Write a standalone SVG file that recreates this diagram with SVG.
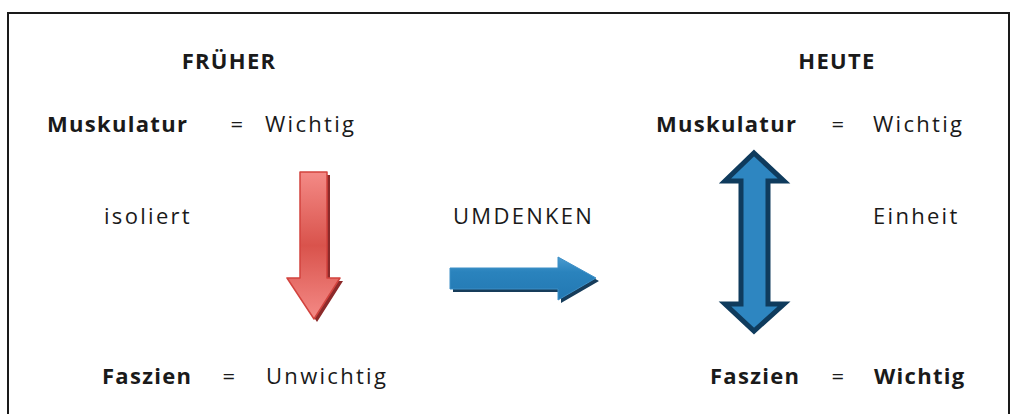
<svg xmlns="http://www.w3.org/2000/svg" width="1011" height="414" viewBox="0 0 1011 414">
  <style>
    text { font-family: "Open Sans", "Noto Sans", "DejaVu Sans", sans-serif; font-size: 22px; fill: #1a1a1a; letter-spacing: 2.3px; }
    .b { font-weight: 700; letter-spacing: 1.3px; }
    .mid { text-anchor: middle; }
  </style>
  <defs>
    <linearGradient id="redGrad" x1="0" y1="0" x2="0" y2="1">
      <stop offset="0" stop-color="#f48a86"/>
      <stop offset="0.5" stop-color="#d9534c"/>
      <stop offset="1" stop-color="#f48a86"/>
    </linearGradient>
    <linearGradient id="blueGrad" x1="0" y1="0" x2="0" y2="1">
      <stop offset="0" stop-color="#4a9bd0"/>
      <stop offset="0.35" stop-color="#2a83bd"/>
      <stop offset="1" stop-color="#2378b2"/>
    </linearGradient>
  </defs>

  <rect width="1011" height="414" fill="#ffffff"/>
  <!-- frame -->
  <path d="M8 420 V13 H1009 V420" fill="none" stroke="#1a1a1a" stroke-width="2"/>

  <g id="frueher">
    <text class="b mid" x="229" y="69">FRÜHER</text>
    <text class="b" x="47" y="132">Muskulatur</text>
    <text class="mid" x="238" y="132">=</text>
    <text x="265" y="132">Wichtig</text>
    <text x="104" y="224">isoliert</text>
    <text class="b" x="102" y="384">Faszien</text>
    <text class="mid" x="230" y="384">=</text>
    <text x="266" y="384">Unwichtig</text>
  </g>

  <g id="heute">
    <text class="b mid" x="837" y="69">HEUTE</text>
    <text class="b" x="656" y="132">Muskulatur</text>
    <text class="mid" x="839" y="132">=</text>
    <text x="873" y="132">Wichtig</text>
    <text x="873" y="224">Einheit</text>
    <text class="b" x="710" y="384">Faszien</text>
    <text class="mid" x="839" y="384">=</text>
    <text class="b" x="874" y="384">Wichtig</text>
  </g>

  <g id="umdenken">
    <text x="453" y="224">UMDENKEN</text>
  </g>

  <g id="arrows">
    <!-- red downward arrow -->
    <g id="arrow-red">
      <path d="M303 175 H330 V281 H343 L317 322 L290 281 H303 Z" fill="#8c2a2a"/>
      <path d="M300 172 H327 V278 H340 L314 319 L287 278 H300 Z" fill="url(#redGrad)" stroke="#d2433e" stroke-width="1.5" stroke-linejoin="round"/>
    </g>
    <!-- blue rightward arrow -->
    <g id="arrow-blue">
      <path d="M453 271 H561 V260 L599 281 L561 303 V292 H453 Z" fill="#163c5a"/>
      <path d="M450 268 H558 V257 L596 278 L558 300 V289 H450 Z" fill="url(#blueGrad)" stroke="#3d8fc6" stroke-width="1"/>
    </g>
    <!-- blue double arrow -->
    <g id="arrow-double">
      <path d="M754 153 L784 181 H768 V304 H784 L754 331 L725 304 H741 V181 H725 Z" fill="#2e86c1" stroke="#0f3b5d" stroke-width="5" stroke-linejoin="miter"/>
    </g>
  </g>
</svg>
